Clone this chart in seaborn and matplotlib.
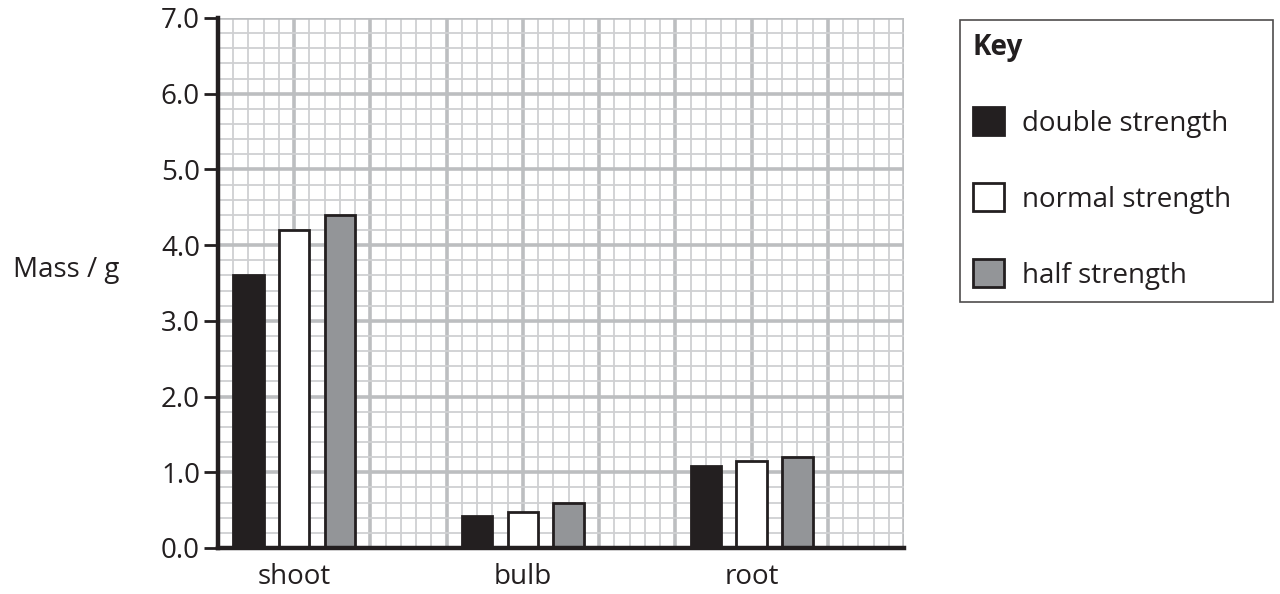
import matplotlib
matplotlib.use("Agg")
import matplotlib.pyplot as plt
from matplotlib.ticker import MultipleLocator, FixedLocator, FuncFormatter
import seaborn as sns
import pandas as pd
import numpy as np

# data
parts = ["shoot", "bulb", "root"]
strengths = ["double strength", "normal strength", "half strength"]
double_vals = [3.6, 0.42, 1.08]
normal_vals = [4.2, 0.47, 1.15]
half_vals = [4.4, 0.60, 1.20]
y_ticks = [0, 1, 2, 3, 4, 5, 6, 7]

colours = ["#231f20", "#ffffff", "#939598"]

df = pd.DataFrame({
    "part": parts * 3,
    "strength": [s for s in strengths for _ in parts],
    "mass": double_vals + normal_vals + half_vals,
})

sns.set_theme(style="white")
plt.rcParams["font.family"] = ["Open Sans", "DejaVu Sans"]
FS = 20

fig = plt.figure(figsize=(12.8, 5.94), dpi=100)
ax = fig.add_axes([218 / 1280, 46 / 594, 686 / 1280, 530 / 594])

sns.barplot(data=df, x="part", y="mass", hue="strength", order=parts,
            hue_order=strengths, palette=colours, width=0.6, gap=1/3,
            edgecolor="#231f20", linewidth=2, saturation=1, ax=ax, zorder=3)

# graph-paper grid: 1 cell = 0.2 g, 3 grid units per category step
cell = 1 / 3
ax.set_xlim(-cell, 2 + 2 * cell)
ax.set_ylim(0, 7)

xmaj = np.arange(-cell, 2 + 2 * cell + 1e-9, cell)
ax.xaxis.set_major_locator(FixedLocator(xmaj))
ax.xaxis.set_major_formatter(FuncFormatter(
    lambda v, p: parts[int(round(v))] if abs(v - round(v)) < 1e-6 and 0 <= round(v) < len(parts) else ""))
ax.xaxis.set_minor_locator(FixedLocator(np.arange(-cell, 2 + 2 * cell + 1e-9, cell / 5)))
ax.yaxis.set_major_locator(FixedLocator(y_ticks))
ax.yaxis.set_major_formatter(FuncFormatter(lambda v, p: f"{v:.1f}"))
ax.yaxis.set_minor_locator(MultipleLocator(0.2))

ax.grid(which="minor", color="#cfd0d2", linewidth=1.3, zorder=0)
ax.grid(which="major", color="#bcbec0", linewidth=2.6, zorder=0)
ax.set_axisbelow(True)

for s in ["top", "right"]:
    ax.spines[s].set_visible(False)
for s in ["left", "bottom"]:
    ax.spines[s].set_color("#231f20")
    ax.spines[s].set_linewidth(3.2)
    ax.spines[s].set_zorder(4)

ax.tick_params(axis="x", which="both", length=0, pad=11, labelsize=FS, labelcolor="#231f20")
ax.tick_params(axis="y", which="major", length=10, width=2, color="#231f20",
               pad=3, labelsize=FS, labelcolor="#231f20", left=True)
ax.tick_params(axis="y", which="minor", length=0)

ax.set_xlabel("")
ax.set_ylabel("Mass / g", rotation=0, fontsize=FS, color="#231f20", ha="center", va="center")
ax.yaxis.set_label_coords(-0.222, 0.525)

handles, labels = ax.get_legend_handles_labels()
ax.get_legend().remove()
leg = fig.legend(handles, labels, title="Key", loc="upper left",
                 bbox_to_anchor=(960 / 1280, 1 - 20 / 594, 313 / 1280, 0),
                 mode="expand", borderaxespad=0, fontsize=FS, frameon=True,
                 fancybox=False, edgecolor="#231f20", labelspacing=1.65,
                 handlelength=1.15, handleheight=1.15, handletextpad=0.65,
                 borderpad=0.45, title_fontproperties={"weight": "bold", "size": FS},
                 alignment="left")
leg.get_frame().set_linewidth(1.2)
for t in leg.get_texts():
    t.set_color("#231f20")
leg.get_title().set_color("#231f20")

fig.savefig("out.png", dpi=100)
